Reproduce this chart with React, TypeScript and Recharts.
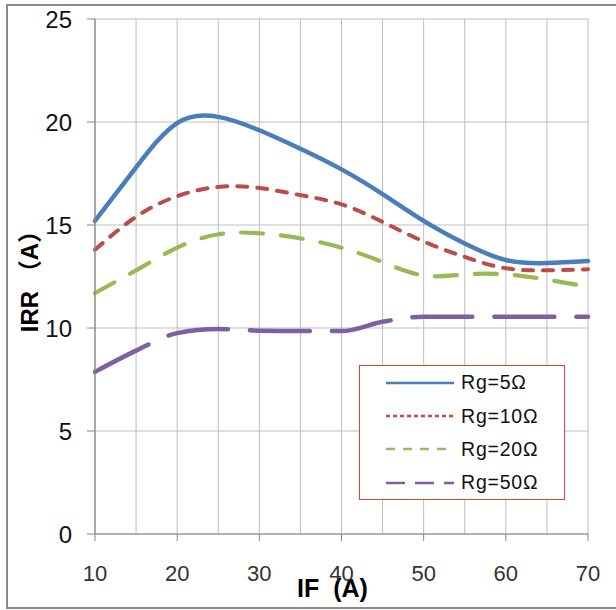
import React from 'react';
import { LineChart, Line, XAxis, YAxis, CartesianGrid, Legend } from 'recharts';

const currentIF = [10, 15, 20, 25, 30, 35, 40, 45, 50, 55, 60, 65, 70];
const rg5 = [15.2, 17.8, 19.95, 20.25, 19.6, 18.7, 17.7, 16.5, 15.2, 14.1, 13.3, 13.15, 13.25];
const rg10 = [13.8, 15.4, 16.4, 16.85, 16.8, 16.45, 16.0, 15.15, 14.2, 13.45, 12.9, 12.8, 12.85];
const rg20 = [11.7, 12.8, 13.9, 14.55, 14.6, 14.35, 13.9, 13.2, 12.55, 12.6, 12.6, 12.35, 12.0];
const rg50 = [7.87, 8.9, 9.75, 9.95, 9.87, 9.85, 9.85, 10.3, 10.55, 10.55, 10.55, 10.55, 10.55];

const xTicks = [10, 20, 30, 40, 50, 60, 70];
const xGrid = [10, 15, 20, 25, 30, 35, 40, 45, 50, 55, 60, 65, 70];
const yTicks = [0, 5, 10, 15, 20, 25];

const seriesNames = ['Rg=5Ω', 'Rg=10Ω', 'Rg=20Ω', 'Rg=50Ω'];
const seriesKeys = ['rg5', 'rg10', 'rg20', 'rg50'];
const colors = ['#4A7EBB', '#BE4B48', '#98B954', '#7D60A0'];
const dashes = ['', '10 10', '22 18', '60 22'];
const widths = [4.5, 4, 4.2, 4.5];
const curveTypes: any[] = ['natural', 'natural', 'natural', 'monotone'];
const legendDashes = ['', '4 3', '9 8', '19 10'];

const data = currentIF.map((v, i) => ({
  IF: v,
  rg5: rg5[i],
  rg10: rg10[i],
  rg20: rg20[i],
  rg50: rg50[i],
}));

const FONT = "'Liberation Sans', Arial, 'Noto Sans CJK JP', sans-serif";

const XTitle = (props: any) => {
  const vb = props.viewBox || {};
  const cx = vb.x + vb.width / 2 - 9;
  const cy = vb.y + 54;
  return (
    <text x={cx} y={cy} textAnchor="middle" dominantBaseline="central" fontFamily={FONT}
      fontWeight="bold" fontSize={25} fill="#000" style={{ whiteSpace: 'pre' }}>
      {'IF  (A)'}
    </text>
  );
};

const YTitle = (props: any) => {
  const vb = props.viewBox || {};
  const cx = vb.x + 29;
  const cy = vb.y + vb.height / 2 - 1;
  return (
    <text x={cx} y={cy} textAnchor="middle" dominantBaseline="central" fontFamily={FONT}
      fontWeight="bold" fontSize={24} fill="#000" transform={`rotate(-90 ${cx} ${cy})`}
      style={{ whiteSpace: 'pre' }}>
      {'IRR （A）'}
    </text>
  );
};

const LegendBox = () => (
  <div style={{
    width: 206, height: 135, boxSizing: 'border-box', border: '1.5px solid #EE3B3B',
    background: '#fff', paddingTop: 0,
  }}>
    {seriesNames.map((name, i) => (
      <div key={name} style={{ height: 33.4, display: 'flex', alignItems: 'center' }}>
        <svg width={96} height={10} style={{ display: 'block' }}>
          <line x1={26} y1={5} x2={94} y2={5} stroke={colors[i]} strokeWidth={2.6}
            strokeDasharray={legendDashes[i] || undefined} />
        </svg>
        <span style={{ fontFamily: FONT, fontSize: 19.5, letterSpacing: 0.8, color: '#111', marginLeft: 5 }}>
          {name}
        </span>
      </div>
    ))}
  </div>
);

export default function App() {
  return (
    <div style={{ position: 'absolute', left: 0, top: 0, width: 616, height: 610, background: '#fff' }}>
      <div style={{
        position: 'absolute', left: 6, top: 4, width: 610, height: 605, boxSizing: 'border-box',
        border: '2px solid #8c8c8c', borderRight: 'none',
      }} />
      <div style={{ position: 'absolute', left: 0, top: 0 }}>
        <LineChart width={616} height={610} data={data}
          margin={{ top: 19, right: 28, bottom: 0, left: 0 }}>
          <CartesianGrid stroke="#BDBDBD" strokeWidth={1} verticalValues={xGrid} horizontalValues={yTicks} />
          <XAxis dataKey="IF" type="number" domain={[10, 70]} ticks={xTicks} height={76}
            axisLine={{ stroke: '#868686', strokeWidth: 1.2 }} tickLine={{ stroke: '#868686' }}
            tickSize={7} tickMargin={24}
            tick={{ fontFamily: FONT, fontSize: 22, fill: '#333' }}
            label={<XTitle />} />
          <YAxis type="number" domain={[0, 25]} ticks={yTicks} width={95}
            axisLine={{ stroke: '#868686', strokeWidth: 1.2 }} tickLine={{ stroke: '#868686' }}
            tickSize={8} tickMargin={15}
            tick={{ fontFamily: FONT, fontSize: 24, fill: '#111' }}
            label={<YTitle />} />
          {seriesKeys.map((k, i) => (
            <Line key={k} type={curveTypes[i]} dataKey={k} name={seriesNames[i]} stroke={colors[i]}
              strokeWidth={widths[i]} strokeDasharray={dashes[i] || undefined}
              strokeLinecap="round" dot={false} activeDot={false} isAnimationActive={false} />
          ))}
          <Legend layout="vertical" align="center" verticalAlign="middle" content={<LegendBox />}
            wrapperStyle={{ left: 359, top: 365, width: 206, height: 135 }} />
        </LineChart>
      </div>
    </div>
  );
}
